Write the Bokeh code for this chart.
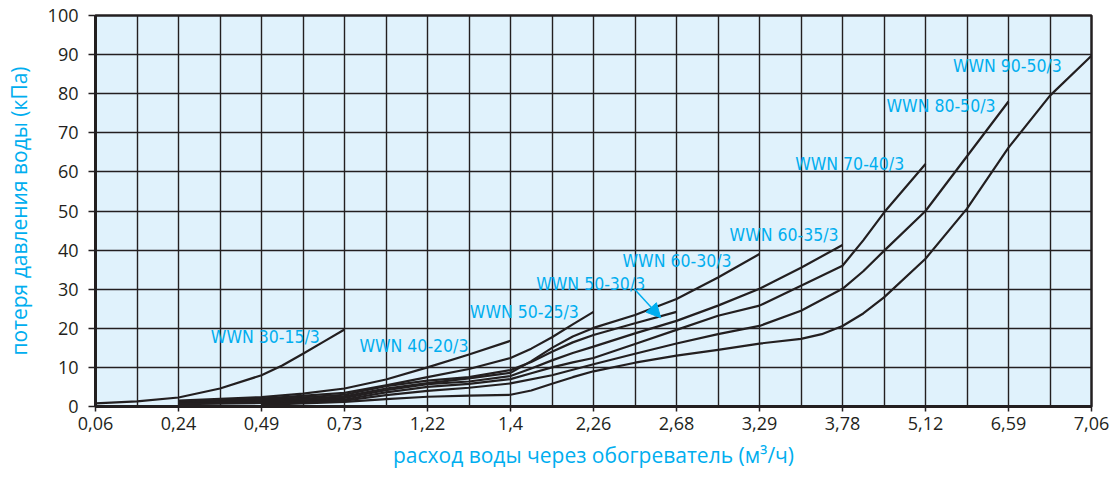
from bokeh.plotting import figure
from bokeh.models import FixedTicker, Label, Arrow, NormalHead
from bokeh.embed import file_html
from bokeh.resources import INLINE

# x axis: equally spaced tick labels (index positions 0..12)
x_labels = ["0,06", "0,24", "0,49", "0,73", "1,22", "1,4", "2,26", "2,68",
            "3,29", "3,78", "5,12", "6,59", "7,06"]
y_ticks = [0, 10, 20, 30, 40, 50, 60, 70, 80, 90, 100]

# curves: positions on the index scale and pressure loss (kPa)
wwn_30_15_x = [0, 0.5, 1, 1.5, 2, 2.25, 2.5, 2.75, 3]
wwn_30_15_y = [0.8, 1.3, 2.3, 4.6, 8.0, 10.5, 13.5, 16.6, 19.7]

wwn_40_20_x = [1, 2, 2.5, 3, 3.5, 4, 4.5, 5]
wwn_40_20_y = [1.5, 2.4, 3.3, 4.6, 6.9, 10.0, 13.3, 16.8]

wwn_50_25_x = [1, 2, 3, 3.5, 4, 4.5, 5, 5.25, 5.5, 5.75, 6]
wwn_50_25_y = [1.2, 2.0, 3.5, 5.4, 7.5, 9.6, 12.4, 14.8, 17.7, 21.0, 24.2]

wwn_50_30_x = [1, 2, 3, 3.5, 4, 4.5, 5, 5.25, 5.5, 5.75, 6, 6.5, 7]
wwn_50_30_y = [1.0, 1.7, 3.0, 5.2, 6.6, 7.5, 9.3, 11.4, 14.0, 16.4, 18.3, 21.3, 24.2]

wwn_60_30_x = [1, 2, 3, 3.5, 4, 4.5, 5, 5.25, 5.5, 5.75, 6, 6.5, 7, 7.5, 8]
wwn_60_30_y = [0.9, 1.4, 2.6, 4.6, 6.0, 7.2, 8.6, 11.6, 15.0, 17.9, 20.1, 23.4, 27.5, 33.0, 39.0]

wwn_60_35_x = [1, 2, 3, 3.5, 4, 4.5, 5, 5.25, 5.5, 5.75, 6, 6.5, 7, 7.5, 8, 8.5, 9]
wwn_60_35_y = [0.7, 1.1, 2.2, 4.2, 5.7, 6.4, 7.8, 9.7, 11.8, 13.7, 15.3, 18.7, 21.9, 25.8, 30.1, 35.5, 41.3]

wwn_70_40_x = [1, 2, 3, 3.5, 4, 4.5, 5, 5.25, 5.5, 5.75, 6, 6.5, 7, 7.5, 8, 8.5, 9, 9.25, 9.5, 10]
wwn_70_40_y = [0.6, 0.9, 1.8, 3.6, 5.0, 5.8, 7.0, 8.5, 10.0, 11.3, 12.4, 16.0, 19.6, 23.2, 25.8, 30.9, 36.0, 42.5, 49.6, 62.0]

wwn_80_50_x = [2, 3, 3.5, 4, 4.5, 5, 5.5, 6, 6.5, 7, 7.5, 8, 8.5, 9, 9.25, 9.5, 10, 10.5, 11]
wwn_80_50_y = [0.6, 1.5, 2.9, 4.0, 4.8, 5.9, 8.0, 10.8, 13.5, 16.1, 18.5, 20.6, 24.5, 30.1, 34.6, 39.8, 50.0, 64.0, 78.0]

wwn_90_50_x = [2, 3, 3.5, 4, 4.5, 5, 5.25, 5.5, 5.75, 6, 6.5, 7, 7.5, 8, 8.5, 8.75, 9, 9.25, 9.5, 10, 10.5, 11, 11.5, 12]
wwn_90_50_y = [0.4, 1.2, 1.9, 2.5, 2.8, 3.0, 4.1, 5.8, 7.5, 9.0, 11.2, 13.0, 14.5, 16.1, 17.3, 18.5, 20.6, 23.8, 27.9, 37.8, 50.6, 66.2, 79.5, 89.7]

curve_names = ["WWN 30-15/3", "WWN 40-20/3", "WWN 50-25/3", "WWN 50-30/3", "WWN 60-30/3",
               "WWN 60-35/3", "WWN 70-40/3", "WWN 80-50/3", "WWN 90-50/3"]
curves_x = [wwn_30_15_x, wwn_40_20_x, wwn_50_25_x, wwn_50_30_x, wwn_60_30_x,
            wwn_60_35_x, wwn_70_40_x, wwn_80_50_x, wwn_90_50_x]
curves_y = [wwn_30_15_y, wwn_40_20_y, wwn_50_25_y, wwn_50_30_y, wwn_60_30_y,
            wwn_60_35_y, wwn_70_40_y, wwn_80_50_y, wwn_90_50_y]
# label anchor positions (left, middle) for each curve name
label_x = [1.39, 3.18, 4.51, 5.31, 6.35, 7.64, 8.43, 9.53, 10.33]
label_y = [17.8, 15.5, 24.2, 31.4, 37.3, 43.9, 62.1, 76.9, 87.1]

DARK = "#231f20"
CYAN = "#00aeef"
FONT = "Open Sans"
LFONT = "DejaVu Sans Condensed"

p = figure(frame_width=996, frame_height=391, x_range=(0, 12), y_range=(0, 100),
           output_backend="svg", toolbar_location=None,
           min_border_left=95, min_border_right=22, min_border_top=15, min_border_bottom=68)
p.background_fill_color = "#e0f2fc"
p.border_fill_color = "white"
p.outline_line_color = DARK
p.outline_line_width = 2.5

p.xaxis.ticker = FixedTicker(ticks=list(range(len(x_labels))))
p.xaxis.major_label_overrides = {i: s for i, s in enumerate(x_labels)}
p.yaxis.ticker = FixedTicker(ticks=y_ticks)
for ax in (p.xaxis, p.yaxis):
    ax.axis_line_color = DARK
    ax.axis_line_width = 3
    ax.major_tick_line_color = DARK
    ax.major_tick_line_width = 1.5
    ax.major_tick_in = 0
    ax.minor_tick_line_color = None
    ax.major_label_text_font = FONT
    ax.major_label_text_font_size = "18px"
    ax.major_label_text_color = DARK
    ax.axis_label_text_font = FONT
    ax.axis_label_text_font_size = "21px"
    ax.axis_label_text_font_style = "normal"
    ax.axis_label_text_color = CYAN
p.xaxis.major_tick_out = 5
p.xaxis.major_label_standoff = 5
p.yaxis.major_tick_out = 7
p.yaxis.major_label_standoff = 10

p.xaxis.axis_label = "расход воды через обогреватель (м³/ч)"
p.xaxis.axis_label_standoff = 8
p.yaxis.axis_label = "потеря давления воды (кПа)"
p.yaxis.axis_label_standoff = 12

p.xgrid.ticker = FixedTicker(ticks=[i * 0.5 for i in range(25)])
p.ygrid.ticker = FixedTicker(ticks=y_ticks)
p.xgrid.grid_line_color = DARK
p.ygrid.grid_line_color = DARK
p.xgrid.grid_line_width = 1.4
p.ygrid.grid_line_width = 1.4

for xs, ys in zip(curves_x, curves_y):
    p.line(xs, ys, line_color=DARK, line_width=2.2, line_join="round")

for name, lx, ly in zip(curve_names, label_x, label_y):
    p.add_layout(Label(x=lx, y=ly, text=name, text_font=LFONT, text_font_size="17.5px",
                       text_color=CYAN, text_baseline="middle", text_align="left"))

p.add_layout(Arrow(x_start=6.49, y_start=30.1, x_end=6.81, y_end=22.7,
                   line_color=CYAN, line_width=1.5,
                   end=NormalHead(size=14, fill_color=CYAN, line_color=CYAN)))

open("out.html", "w").write(file_html(p, INLINE))
